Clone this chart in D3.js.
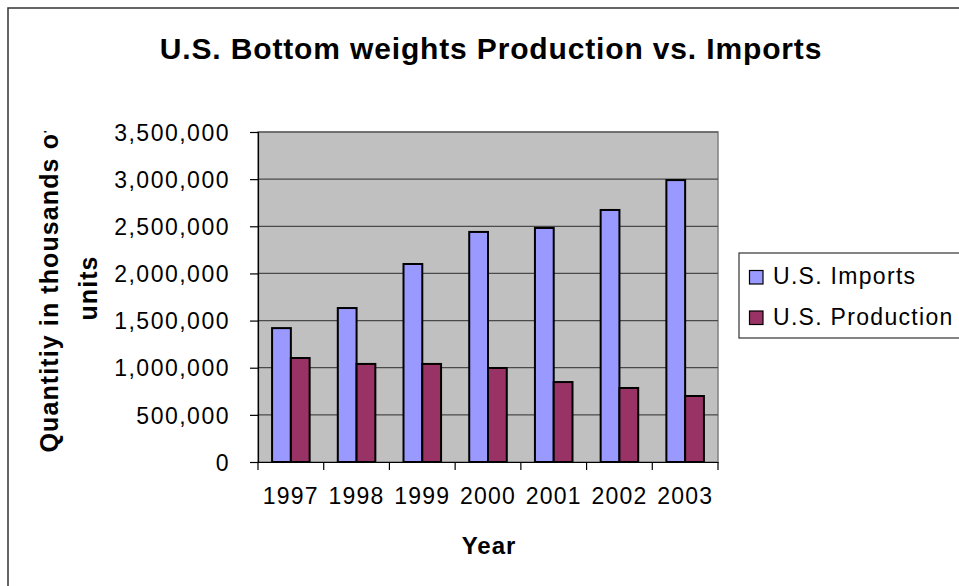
<!DOCTYPE html>
<html>
<head>
<meta charset="utf-8">
<script src="https://cdn.jsdelivr.net/npm/d3@7"></script>
<style>
body { margin: 0; background: #fff; }
text { font-family: "Liberation Sans", Arial, sans-serif; fill: #000; }
</style>
</head>
<body>
<script>
//data
var years = ["1997", "1998", "1999", "2000", "2001", "2002", "2003"]
var seriesNames = ["U.S. Imports", "U.S. Production"]
var imports = [1420000, 1633000, 2100000, 2440000, 2482000, 2673000, 2990000]
var production = [1103000, 1040000, 1040000, 997000, 848000, 785000, 700000]
var yTicks = [0, 500000, 1000000, 1500000, 2000000, 2500000, 3000000, 3500000]
var colors = ["#9999ff", "#993366"]

var width = 959, height = 586
var plot = {left: 258, right: 718, top: 132, bottom: 462}

var svg = d3.select("body")
.append("svg")
.attr("width", width)
.attr("height", height)

//chart area border, runs off the right and bottom edge
svg.append("rect")
	.attr("x", 8)
	.attr("y", 8)
	.attr("width", 1100)
	.attr("height", 700)
	.attr("fill", "#fff")
	.attr("stroke", "#333")
	.attr("stroke-width", 1.5)

var x0 = d3.scaleBand()
	.domain(years)
	.range([plot.left, plot.right])

//excel gap width 150%
var gap = x0.step() * 1.5 / 3.5
var x1 = d3.scaleBand()
	.domain(seriesNames)
	.range([gap / 2, x0.step() - gap / 2])

var y = d3.scaleLinear()
	.domain([0, 3500000])
	.range([plot.bottom, plot.top])

svg.append("rect")
	.attr("x", plot.left)
	.attr("y", plot.top)
	.attr("width", plot.right - plot.left)
	.attr("height", plot.bottom - plot.top)
	.attr("fill", "#c0c0c0")
	.attr("stroke", "#808080")
	.attr("stroke-width", 1.5)

//gridlines
svg.selectAll(".grid")
	.data(yTicks.slice(1))
	.enter()
	.append("line")
	.attr("class", "grid")
	.attr("x1", plot.left)
	.attr("x2", plot.right)
	.attr("y1", function(d) { return y(d) })
	.attr("y2", function(d) { return y(d) })
	.attr("stroke", "#4a4a4a")
	.attr("stroke-width", 1.2)

var rows = years.map(function(yr, i) {
	return {year: yr, values: [imports[i], production[i]]}
})

var groups = svg.selectAll(".yearGroup")
	.data(rows)
	.enter()
	.append("g")
	.attr("class", "yearGroup")
	.attr("transform", function(d) { return "translate(" + x0(d.year) + ",0)" })

groups.selectAll("rect")
	.data(function(d) {
		return d.values.map(function(v, i) { return {name: seriesNames[i], value: v, i: i} })
	})
	.enter()
	.append("rect")
	.attr("x", function(d) { return x1(d.name) })
	.attr("width", x1.bandwidth())
	.attr("y", function(d) { return y(d.value) })
	.attr("height", function(d) { return y(0) - y(d.value) })
	.attr("fill", function(d) { return colors[d.i] })
	.attr("stroke", "#000")
	.attr("stroke-width", 2)

//y axis
var yAxis = svg.append("g")
	.attr("transform", "translate(" + plot.left + ",0)")
	.call(d3.axisLeft(y).tickValues(yTicks).tickFormat(d3.format(",")).tickSize(8).tickPadding(20))
yAxis.select(".domain").attr("stroke", "#000").attr("stroke-width", 1.2)
yAxis.selectAll(".tick line").attr("stroke", "#000").attr("stroke-width", 1.2)
yAxis.selectAll(".tick text")
	.attr("font-family", "Liberation Sans, Arial, sans-serif")
	.attr("font-size", 23)
	.attr("letter-spacing", 1.5)
	.attr("dy", "0.36em")

//x axis, ticks sit between categories
var xAxis = svg.append("g")
	.attr("transform", "translate(0," + plot.bottom + ")")
	.call(d3.axisBottom(x0).tickSize(0).tickPadding(26))
xAxis.select(".domain").attr("stroke", "#000").attr("stroke-width", 1.2)
xAxis.selectAll(".tick text")
	.attr("font-family", "Liberation Sans, Arial, sans-serif")
	.attr("font-size", 23)
	.attr("letter-spacing", 1.2)
xAxis.selectAll(".sep")
	.data(d3.range(years.length + 1))
	.enter()
	.append("line")
	.attr("class", "sep")
	.attr("x1", function(i) { return plot.left + i * x0.step() })
	.attr("x2", function(i) { return plot.left + i * x0.step() })
	.attr("y1", 0)
	.attr("y2", 8)
	.attr("stroke", "#000")
	.attr("stroke-width", 1.2)

//title
svg.append("text")
	.attr("x", 491)
	.attr("y", 59)
	.attr("text-anchor", "middle")
	.attr("font-size", 30)
	.attr("font-weight", "bold")
	.attr("letter-spacing", 0.85)
	.text("U.S. Bottom weights Production vs. Imports")

svg.append("text")
	.attr("x", 489)
	.attr("y", 554)
	.attr("text-anchor", "middle")
	.attr("font-size", 24)
	.attr("font-weight", "bold")
	.attr("letter-spacing", 1)
	.text("Year")

//y title gets cut at the top like in excel
svg.append("clipPath")
	.attr("id", "yTitleClip")
	.append("rect")
	.attr("x", 0)
	.attr("y", 131)
	.attr("width", 120)
	.attr("height", 400)

var yTitle = svg.append("g").attr("clip-path", "url(#yTitleClip)")
var yTitleLines = ["Quantitiy in thousands of", "units"]
yTitle.selectAll("text")
	.data(yTitleLines)
	.enter()
	.append("text")
	.attr("transform", function(d, i) { return "translate(" + (58 + i * 38.5) + ",288) rotate(-90)" })
	.attr("text-anchor", "middle")
	.attr("font-size", 25)
	.attr("font-weight", "bold")
	.attr("letter-spacing", 1.1)
	.text(function(d) { return d })

//legend
var legend = svg.append("g")
legend.append("rect")
	.attr("x", 739)
	.attr("y", 253)
	.attr("width", 300)
	.attr("height", 85)
	.attr("fill", "#fff")
	.attr("stroke", "#333")
	.attr("stroke-width", 1.2)

var items = legend.selectAll(".item")
	.data(seriesNames)
	.enter()
	.append("g")
	.attr("class", "item")
	.attr("transform", function(d, i) { return "translate(0," + (i * 40.5) + ")" })
items.append("rect")
	.attr("x", 749.5)
	.attr("y", 270.5)
	.attr("width", 13.5)
	.attr("height", 13.5)
	.attr("fill", function(d, i) { return colors[i] })
	.attr("stroke", "#000")
	.attr("stroke-width", 1.2)
items.append("text")
	.attr("x", 773)
	.attr("y", 284)
	.attr("font-size", 23)
	.attr("letter-spacing", 1.3)
	.text(function(d) { return d })
</script>
</body>
</html>
